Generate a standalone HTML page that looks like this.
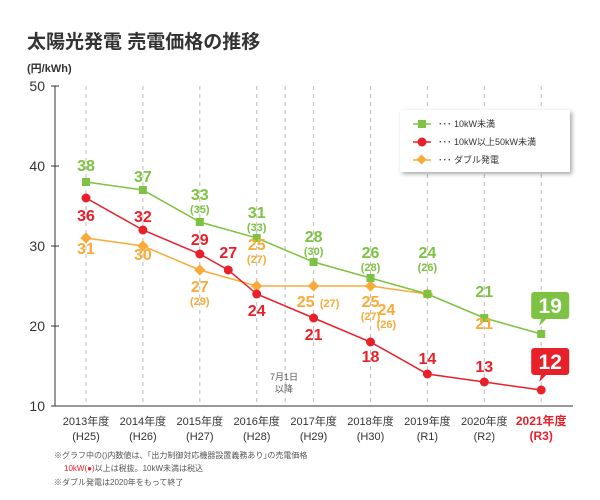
<!DOCTYPE html>
<html><head><meta charset="utf-8">
<style>
body{margin:0;background:#fff;}
svg{display:block;font-family:"Liberation Sans","Noto Sans CJK JP",sans-serif;}
</style></head>
<body>
<svg id="chart" width="600" height="500" viewBox="0 0 600 500">
<text x="27" y="48" font-size="19" font-weight="bold" fill="#333">太陽光発電 売電価格の推移</text>
<text x="27" y="72" font-size="11" font-weight="bold" fill="#333">(円/kWh)</text>
<g id="grid"></g><g id="axes"></g><g id="series"></g><g id="labels"></g>
<text x="284" y="380" font-size="9" fill="#555" text-anchor="middle">7月1日</text>
<text x="284" y="392" font-size="9" fill="#555" text-anchor="middle">以降</text>
<g>
<rect x="400" y="110" width="170" height="62" fill="#fff" style="filter:drop-shadow(2px 2px 2px rgba(0,0,0,0.35))"/>
<line x1="413" y1="124" x2="431" y2="124" stroke="#7dc242" stroke-width="1.5"/><rect x="418" y="120" width="8" height="8" fill="#7dc242"/>
<text x="438" y="127" font-size="9" fill="#333">･･･  10kW未満</text>
<line x1="413" y1="142" x2="431" y2="142" stroke="#e8202a" stroke-width="1.5"/><circle cx="422" cy="142" r="4.5" fill="#e8202a"/>
<text x="438" y="145" font-size="9" fill="#333">･･･  10kW以上50kW未満</text>
<line x1="413" y1="160" x2="431" y2="160" stroke="#f8ab38" stroke-width="1.5"/><rect x="418" y="156" width="7" height="7" fill="#f8ab38" transform="rotate(45 421.5 159.5)"/>
<text x="438" y="163" font-size="9" fill="#333">･･･  ダブル発電</text>
</g>
<g>
<text x="54" y="458" font-size="8" fill="#555">※グラフ中の()内数値は、｢出力制御対応機器設置義務あり｣の売電価格</text>
<text x="64" y="471" font-size="8" fill="#555"><tspan fill="#e8202a">10kW(●)</tspan>以上は税抜。10kW未満は税込</text>
<text x="54" y="485" font-size="8" fill="#555">※ダブル発電は2020年をもって終了</text>
</g>
</svg>
<script>
const categories=["2013年度","2014年度","2015年度","2016年度","2017年度","2018年度","2019年度","2020年度","2021年度"];
const eras=["(H25)","(H26)","(H27)","(H28)","(H29)","(H30)","(R1)","(R2)","(R3)"];
const yTicks=[10,20,30,40,50];
const greenIdx=[0,1,2,3,4,5,6,7,8];
const greenVals=[38,37,33,31,28,26,24,21,19];
const greenSub=["","","(35)","(33)","(30)","(28)","(26)","",""];
const redIdx=[0,1,2,2.5,3,4,5,6,7,8];
const redVals=[36,32,29,27,24,21,18,14,13,12];
const orangeIdx=[0,1,2,3,4,5,6];
const orangeVals=[31,30,27,25,25,25,24];
const orangeSub=["","","(29)","(27)","(27)","(27)","(26)"];
const orangeLabelIdx=[0,1,2,3,4,5,6,7];
const orangeLabelVals=[31,30,27,25,25,25,24,21];

const NS="http://www.w3.org/2000/svg";
const X=i=>86+i*56.9;
const Y=v=>406-(v-10)*8;
function mk(tag,attrs,parent,txt){const e=document.createElementNS(NS,tag);for(const k in attrs)e.setAttribute(k,attrs[k]);if(txt!==undefined)e.textContent=txt;parent.appendChild(e);return e;}
const grid=document.getElementById('grid'),axes=document.getElementById('axes'),ser=document.getElementById('series'),lab=document.getElementById('labels');
categories.forEach((c,i)=>{
 const g=mk('line',{x1:X(i),y1:86,x2:X(i),y2:406,stroke:'#bbb','stroke-dasharray':'4,4'},grid);
 
 
 const last=i===categories.length-1;
 const t=mk('text',{x:X(i),y:425,'font-size':last?12:11,'font-weight':last?'bold':'normal',fill:last?'#e8202a':'#333','text-anchor':'middle'},axes,c);
 
 
 const t2=mk('text',{x:X(i),y:440,'font-size':last?12:11,'font-weight':last?'bold':'normal',fill:last?'#e8202a':'#333','text-anchor':'middle'},axes,eras[i]);
 
 
});
const jl=mk('line',{x1:X(3.5),y1:86,x2:X(3.5),y2:406,stroke:'#bbb','stroke-dasharray':'4,4'},grid);


const ya=mk('line',{x1:55,y1:86,x2:55,y2:406,stroke:'#333'},axes);


const xa=mk('line',{x1:55,y1:406,x2:573,y2:406,stroke:'#333'},axes);


yTicks.forEach(v=>{
 mk('line',{x1:51,y1:Y(v),x2:59,y2:Y(v),stroke:'#333'},axes);
 const t=mk('text',{x:45,y:Y(v)+5,'font-size':14,fill:'#333','text-anchor':'end'},axes,v);
 
 
});
function line(idx,vals,color,name){
 const p=mk('polyline',{points:idx.map((i,k)=>X(i)+','+Y(vals[k])).join(' '),fill:'none',stroke:color,'stroke-width':1.5},ser);
 
 
}
line(orangeIdx,orangeVals,'#f8ab38','double');
line(greenIdx,greenVals,'#7dc242','under10');
line(redIdx,redVals,'#e8202a','over10');
orangeIdx.forEach((i,k)=>{const m=mk('rect',{x:X(i)-4,y:Y(orangeVals[k])-4,width:8,height:8,fill:'#f8ab38',transform:`rotate(45 ${X(i)} ${Y(orangeVals[k])})`},ser);
 
 });
greenIdx.forEach((i,k)=>{const m=mk('rect',{x:X(i)-4,y:Y(greenVals[k])-4,width:8,height:8,fill:'#7dc242'},ser);
 
 });
redIdx.forEach((i,k)=>{const m=mk('circle',{cx:X(i),cy:Y(redVals[k]),r:4.5,fill:'#e8202a'},ser);
 
 });
function label(x,y,txt,color,size,name){const t=mk('text',{x:x,y:y,'font-size':size||16,'font-weight':'bold',fill:color,'text-anchor':'middle'},lab,txt);
 
 }
// label layout offsets (relative to marker, layout only)
const gDy=[-11,-8,-22,-20,-20,-20,-36,-21];
greenIdx.forEach((i,k)=>{
 if(k===8)return;
 const y=Y(greenVals[k])+gDy[k];
 label(X(i),y,greenVals[k],'#7dc242',16,'under10-value');
 if(greenSub[k])label(X(i),y+13,greenSub[k],'#7dc242',11,'under10-sub');
});
const rDy=[23,-8,-9,-12,22,22,20,-10,-10];
redIdx.forEach((i,k)=>{
 if(k===9)return;
 label(X(i),Y(redVals[k])+rDy[k],redVals[k],'#e8202a',16,'over10-value');
});
const oDy=[16,14,22,-36,21,21,21,11];
const oDx=[0,0,0,0,-8,0,-41,0];
orangeLabelIdx.forEach((i,k)=>{
 const v=orangeLabelVals[k];
 const y=(k===7?Y(greenVals[7]):Y(v))+oDy[k], sx=X(i)+oDx[k];
 label(sx,y,v,'#f8ab38',16,'double-value');
 const sub=orangeSub[k];
 if(sub){
  if(k===4)label(X(i)+16,y,sub,'#f8ab38',11,'double-sub');
  else label(sx,y+13,sub,'#f8ab38',11,'double-sub');
 }
});
function callout(v,color,name){
 const cx=X(8)+9, top=Y(v)-42;
 const g=mk('g',{},lab);
 
 
 mk('rect',{x:cx-19,y:top,width:38,height:27,rx:3,fill:color},g);
 mk('polygon',{points:`${cx-9},${top+26} ${cx-3},${top+26} ${cx-11},${top+34}`,fill:color},g);
 mk('text',{x:cx,y:top+21,'font-size':21,'font-weight':'bold',fill:'#fff','text-anchor':'middle'},g,v);
}
callout(greenVals[8],'#7dc242','under10-callout-2021');
callout(redVals[9],'#e8202a','over10-callout-2021');
</script>
</body></html>
